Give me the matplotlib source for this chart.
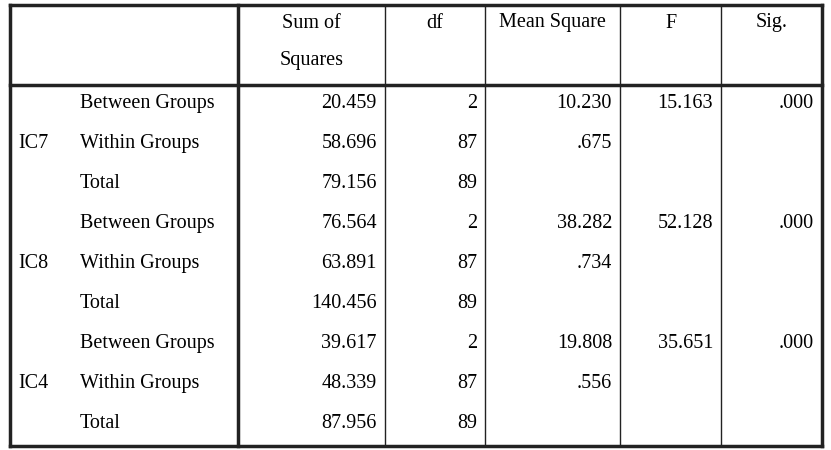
import matplotlib.pyplot as plt

headers = ["Sum of\nSquares", "df", "Mean Square", "F", "Sig."]
groups = ["IC7", "IC8", "IC4"]
sources = ["Between Groups", "Within Groups", "Total"]
sum_sq = ["20.459", "58.696", "79.156", "76.564", "63.891", "140.456", "39.617", "48.339", "87.956"]
dfs = ["2", "87", "89", "2", "87", "89", "2", "87", "89"]
mean_sq = ["10.230", ".675", "", "38.282", ".734", "", "19.808", ".556", ""]
f_vals = ["15.163", "", "", "52.128", "", "", "35.651", "", ""]
sig = [".000", "", "", ".000", "", "", ".000", "", ""]

plt.rcParams['font.family'] = ['Liberation Serif', 'DejaVu Serif']

fig = plt.figure(figsize=(8.31, 4.5), dpi=100)
ax = fig.add_axes([0, 0, 1, 1])
ax.set_xlim(0, 831)
ax.set_ylim(450, 0)
ax.axis('off')

# column edges
cx = [10, 70, 238, 385, 485, 620, 721, 822]
top, head_bot, bot = 5, 85, 446
row_h = (bot - head_bot) / 9.0

# borders
ax.plot([cx[0], cx[-1]], [top, top], color='#222', lw=2.5)
ax.plot([cx[0], cx[-1]], [bot, bot], color='#222', lw=2.5)
ax.plot([cx[0], cx[0]], [top, bot], color='#222', lw=2.5)
ax.plot([cx[-1], cx[-1]], [top, bot], color='#222', lw=2.5)
ax.plot([cx[0], cx[-1]], [head_bot, head_bot], color='#222', lw=2.5)
ax.plot([cx[2], cx[2]], [top, bot], color='#222', lw=2.5)
for x in cx[3:-1]:
    ax.plot([x, x], [top, bot], color='#222', lw=1)

fs = 14.5
# header
for i, h in enumerate(headers):
    xm = (cx[i + 2] + cx[i + 3]) / 2
    if "\n" in h:
        a, b = h.split("\n")
        ax.text(xm, 23, a, ha='center', va='center', fontsize=fs)
        ax.text(xm, 61, b, ha='center', va='center', fontsize=fs)
    else:
        ax.text(xm, 23, h, ha='center', va='center', fontsize=fs)

cols = [sum_sq, dfs, mean_sq, f_vals, sig]
for r in range(9):
    y = head_bot + row_h * (r + 0.45)
    ax.text(cx[1] + 10, y, sources[r % 3], ha='left', va='center', fontsize=fs)
    for c, vals in enumerate(cols):
        ax.text(cx[c + 3] - 8, y, vals[r], ha='right', va='center', fontsize=fs)
for g, name in enumerate(groups):
    y = head_bot + row_h * (g * 3 + 1.45)
    ax.text(cx[0] + 8, y, name, ha='left', va='center', fontsize=fs)

fig.savefig("out.png", dpi=100)
